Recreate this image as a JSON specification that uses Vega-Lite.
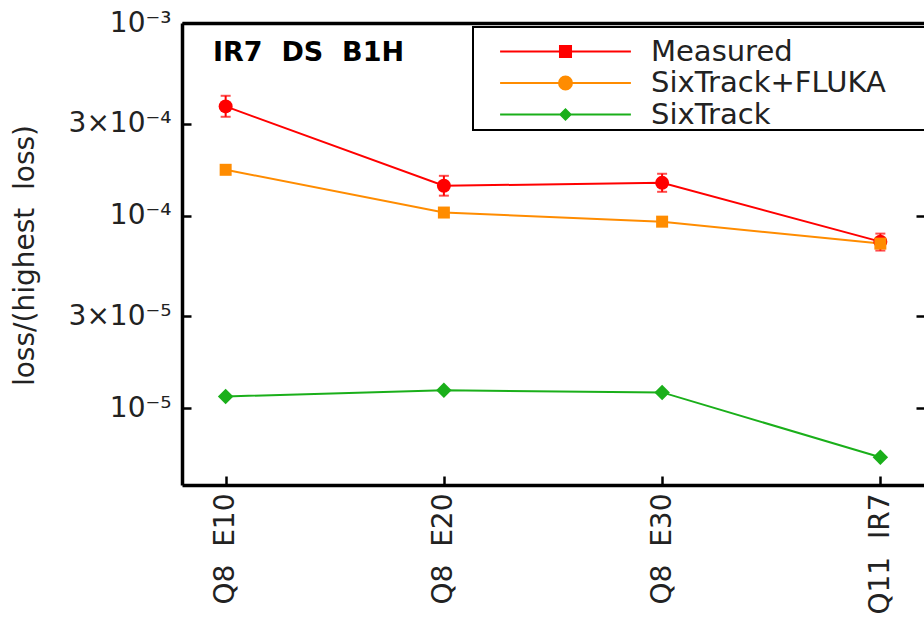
{
  "$schema": "https://vega.github.io/schema/vega-lite/v6.json",
  "autosize": "none",
  "padding": {"left": 182, "top": 23, "right": 0, "bottom": 135},
  "width": 742,
  "height": 462,
  "background": "white",
  "config": {
    "view": {"stroke": null},
    "font": "DejaVu Sans",
    "axis": {"labelFont": "DejaVu Sans", "titleFont": "DejaVu Sans", "labelColor": "#222", "titleColor": "#222", "grid": false},
    "legend": {
      "orient": "none",
      "legendX": 291,
      "legendY": 4,
      "title": null,
      "labelFont": "DejaVu Sans",
      "labelFontSize": 29,
      "labelColor": "#222",
      "labelLimit": 600,
      "symbolSize": 144,
      "symbolStrokeWidth": 2,
      "symbolOffset": 78,
      "labelOffset": 71,
      "rowPadding": 1.5,
      "padding": 0,
      "strokeColor": "black",
      "strokeWidth": 2,
      "fillColor": "white"
    }
  },
  "title": {
    "text": "IR7\u00a0\u00a0DS\u00a0\u00a0B1H",
    "anchor": "start",
    "frame": "group",
    "orient": "top",
    "offset": -42,
    "dx": 31,
    "dy": 37,
    "baseline": "alphabetic",
    "font": "DejaVu Sans",
    "fontSize": 27,
    "fontWeight": "bold",
    "color": "black"
  },
  "datasets": {
    "pts": [
      {"pos": "Q8 E10", "series": "Measured", "v": 0.000369, "lo": 0.000326, "hi": 0.000419},
      {"pos": "Q8 E20", "series": "Measured", "v": 0.000143, "lo": 0.000127, "hi": 0.000161},
      {"pos": "Q8 E30", "series": "Measured", "v": 0.000148, "lo": 0.000133, "hi": 0.000165},
      {"pos": "Q11 IR7", "series": "Measured", "v": 0.0000733, "lo": 0.0000659, "hi": 0.0000807},
      {"pos": "Q8 E10", "series": "SixTrack+FLUKA", "v": 0.000173},
      {"pos": "Q8 E20", "series": "SixTrack+FLUKA", "v": 0.0001038},
      {"pos": "Q8 E30", "series": "SixTrack+FLUKA", "v": 0.0000931},
      {"pos": "Q11 IR7", "series": "SixTrack+FLUKA", "v": 0.0000716},
      {"pos": "Q8 E10", "series": "SixTrack", "v": 0.00001153},
      {"pos": "Q8 E20", "series": "SixTrack", "v": 0.0000124},
      {"pos": "Q8 E30", "series": "SixTrack", "v": 0.0000121},
      {"pos": "Q11 IR7", "series": "SixTrack", "v": 0.00000557}
    ]
  },
  "data": {"name": "pts"},
  "layer": [
    {
      "mark": {"type": "line", "strokeWidth": 2},
      "encoding": {
        "x": {
          "field": "pos", "type": "ordinal", "sort": null,
          "scale": {"type": "point", "padding": 0.2},
          "axis": {
            "title": null, "orient": "bottom", "labelAngle": -90, "labelFontSize": 28,
            "labelExpr": "replace(datum.label, ' ', '\u00a0\u00a0')",
            "labelPadding": 17, "tickSize": -9, "tickWidth": 2.5, "tickColor": "black",
            "domainColor": "black", "domainWidth": 3.5
          }
        },
        "y": {
          "field": "v", "type": "quantitative",
          "scale": {"type": "log", "domain": [0.000004, 0.001], "nice": false, "zero": false},
          "axis": {
            "title": "loss/(highest\u00a0\u00a0loss)", "titleFontSize": 28, "titleFontWeight": "normal",
            "titleX": -157, "titleY": 232, "titleAngle": -90, "titleBaseline": "middle", "titleAlign": "center",
            "values": [0.001, 0.0003, 0.0001, 0.00003, 0.00001],
            "labelExpr": "datum.value > 5e-4 ? '10⁻³' : datum.value > 2e-4 ? '3×10⁻⁴' : datum.value > 5e-5 ? '10⁻⁴' : datum.value > 2e-5 ? '3×10⁻⁵' : '10⁻⁵'",
            "labelFontSize": 28, "labelPadding": 20, "tickSize": -9, "tickWidth": 2.5, "tickColor": "black",
            "domainColor": "black", "domainWidth": 3.5, "labelFlush": false
          }
        },
        "color": {
          "field": "series", "type": "nominal",
          "scale": {"domain": ["Measured", "SixTrack+FLUKA", "SixTrack"], "range": ["#ff0000", "#ff8c00", "#1aaf1a"]},
          "legend": {
            "encode": {
              "labels": {"update": {"dy": {"signal": "datum.value === 'Measured' ? 10 : 0"}}},
              "symbols": {
                "update": {
                  "shape": {"signal": "datum.value === 'Measured' ? 'M-10.9,1.667H10.9M-0.92,0.747H0.92V2.587H-0.92ZM62,1.667' : datum.value === 'SixTrack+FLUKA' ? 'M-10.9,0H10.9M-1.08,0A1.08,1.08,0,1,0,1.08,0A1.08,1.08,0,1,0,-1.08,0ZM62,0' : 'M-10.9,0H10.9M-0.85,0L0,-0.85L0.85,0L0,0.85ZM62,0'"},
                  "fill": {"signal": "scale('color', datum.value)"},
                  "stroke": {"signal": "scale('color', datum.value)"},
                  "strokeWidth": {"value": 2},
                  "opacity": {"value": 1},
                  "fillOpacity": {"value": 1}
                }
              }
            }
          }
        }
      }
    },
    {
      "transform": [{"filter": "datum.series === 'Measured'"}],
      "mark": {"type": "rule", "color": "#ff0000", "strokeWidth": 2},
      "encoding": {
        "x": {"field": "pos", "type": "ordinal", "sort": null, "axis": null},
        "y": {"field": "lo", "type": "quantitative", "axis": null},
        "y2": {"field": "hi"}
      }
    },
    {
      "transform": [{"filter": "datum.series === 'Measured'"}],
      "mark": {"type": "tick", "color": "#ff0000", "thickness": 2, "size": 10},
      "encoding": {
        "x": {"field": "pos", "type": "ordinal", "sort": null, "axis": null},
        "y": {"field": "hi", "type": "quantitative", "axis": null}
      }
    },
    {
      "transform": [{"filter": "datum.series === 'Measured'"}],
      "mark": {"type": "tick", "color": "#ff0000", "thickness": 2, "size": 10},
      "encoding": {
        "x": {"field": "pos", "type": "ordinal", "sort": null, "axis": null},
        "y": {"field": "lo", "type": "quantitative", "axis": null}
      }
    },
    {
      "transform": [{"filter": "datum.series === 'Measured'"}],
      "mark": {"type": "point", "shape": "circle", "filled": true, "size": 196, "opacity": 1, "color": "#ff0000"},
      "encoding": {
        "x": {"field": "pos", "type": "ordinal", "sort": null, "axis": null},
        "y": {"field": "v", "type": "quantitative", "axis": null}
      }
    },
    {
      "transform": [{"filter": "datum.series === 'SixTrack+FLUKA'"}],
      "mark": {"type": "point", "shape": "square", "filled": true, "size": 144, "opacity": 1, "color": "#ff8c00"},
      "encoding": {
        "x": {"field": "pos", "type": "ordinal", "sort": null, "axis": null},
        "y": {"field": "v", "type": "quantitative", "axis": null}
      }
    },
    {
      "transform": [{"filter": "datum.series === 'SixTrack'"}],
      "mark": {"type": "point", "shape": "diamond", "filled": true, "size": 240, "opacity": 1, "color": "#1aaf1a"},
      "encoding": {
        "x": {"field": "pos", "type": "ordinal", "sort": null, "axis": null},
        "y": {"field": "v", "type": "quantitative", "axis": null}
      }
    },
    {
      "mark": {"type": "point", "opacity": 0},
      "encoding": {
        "x": {"field": "pos", "type": "ordinal", "sort": null,
          "axis": {"orient": "top", "title": null, "labels": false, "ticks": false, "domainColor": "black", "domainWidth": 3.5}},
        "y": {"field": "v", "type": "quantitative",
          "axis": {"orient": "right", "title": null, "labels": false, "domain": false, "values": [0.001, 0.0003, 0.0001, 0.00003, 0.00001], "tickSize": -8, "tickWidth": 2.5, "tickColor": "black"}}
      }
    }
  ],
  "resolve": {"axis": {"x": "independent", "y": "independent"}}
}
